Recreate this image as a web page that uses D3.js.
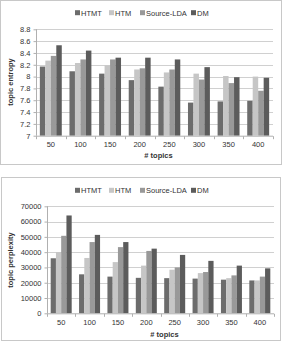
<!DOCTYPE html>
<html>
<head>
<meta charset="utf-8">
<script src="https://cdn.jsdelivr.net/npm/d3@7"></script>
<style>
body { margin: 0; background: #fff; }
text { font-family: "Liberation Sans", Arial, sans-serif; fill: #333; }
</style>
</head>
<body>
<div id="svg_container"></div>
<script>
/* -----------------------
data
------------------------- */
var topics = ['50', '100', '150', '200', '250', '300', '350', '400'];
var series = ['HTMT', 'HTM', 'Source-LDA', 'DM'];

var entropy_htmt = [8.17, 8.09, 8.05, 7.94, 7.83, 7.56, 7.58, 7.59];
var entropy_htm  = [8.27, 8.23, 8.19, 8.12, 8.07, 8.05, 8.01, 8.00];
var entropy_slda = [8.35, 8.29, 8.29, 8.14, 8.12, 7.95, 7.89, 7.76];
var entropy_dm   = [8.53, 8.44, 8.32, 8.32, 8.29, 8.16, 7.99, 7.98];
var entropy_ticks = [7, 7.2, 7.4, 7.6, 7.8, 8, 8.2, 8.4, 8.6, 8.8];

var perp_htmt = [36000, 25500, 24000, 23200, 23000, 22700, 22000, 21500];
var perp_htm  = [40000, 36200, 33500, 31200, 28500, 26300, 23000, 21500];
var perp_slda = [50700, 46600, 43300, 40800, 30000, 27000, 24800, 24000];
var perp_dm   = [64000, 51300, 46600, 42300, 38200, 34300, 31200, 29400];
var perp_ticks = [0, 10000, 20000, 30000, 40000, 50000, 60000, 70000];

/* -----------------------
main variables
------------------------- */
var width = 283, height = 344;
var colors = ['#6c6c6c', '#c6c6c6', '#999999', '#5c5c5c'];
var font_size = '7.5px';

var svg = d3.select('#svg_container')
  .append('svg')
  .attr('width', width)
  .attr('height', height);

function drawChart(cfg) {
  var g = svg.append('g');

  // frame
  g.append('rect')
    .attr('x', cfg.frame[0]).attr('y', cfg.frame[1])
    .attr('width', cfg.frame[2]).attr('height', cfg.frame[3])
    .attr('fill', 'none').attr('stroke', '#c8c8c8');

  var x0 = d3.scaleBand().domain(topics).range([cfg.left, cfg.right]);
  var x1 = d3.scaleBand().domain(series)
    .range([0, x0.bandwidth() * 0.74]);
  var off = x0.bandwidth() * 0.13;
  var y = d3.scaleLinear().domain(cfg.domain).range([cfg.bottom, cfg.top]);

  // gridlines
  g.append('g').selectAll('line')
    .data(cfg.ticks.slice(1))
    .enter().append('line')
    .attr('x1', cfg.left).attr('x2', cfg.right)
    .attr('y1', function(d) { return Math.round(y(d)) + 0.5; })
    .attr('y2', function(d) { return Math.round(y(d)) + 0.5; })
    .attr('stroke', '#d0d0d0');

  // bars
  var rows = topics.map(function(t, i) {
    return cfg.values.map(function(v, j) { return {t: t, s: series[j], v: v[i], c: colors[j]}; });
  });
  g.append('g').selectAll('g')
    .data(rows).enter().append('g')
    .attr('transform', function(d) { return 'translate(' + (x0(d[0].t) + off) + ',0)'; })
    .selectAll('rect')
    .data(function(d) { return d; })
    .enter().append('rect')
    .attr('x', function(d) { return x1(d.s); })
    .attr('width', x1.bandwidth())
    .attr('y', function(d) { return y(d.v); })
    .attr('height', function(d) { return cfg.bottom - y(d.v); })
    .attr('fill', function(d) { return d.c; });

  // y axis
  var ya = g.append('g')
    .attr('transform', 'translate(' + (cfg.left + 0.5) + ',0)')
    .call(d3.axisLeft(y).tickValues(cfg.ticks).tickSize(3).tickPadding(3)
      .tickFormat(function(d) { return d; }));
  ya.selectAll('path, line').attr('stroke', '#b0b0b0');
  ya.select('.domain').attr('d', 'M0,' + cfg.top + 'V' + cfg.bottom);
  ya.selectAll('text').attr('font-size', font_size).attr('fill', '#333');

  // x axis
  var xa = g.append('g')
    .attr('transform', 'translate(0,' + (cfg.bottom + 0.5) + ')');
  xa.append('line').attr('x1', cfg.left).attr('x2', cfg.right)
    .attr('stroke', '#b0b0b0');
  xa.selectAll('.tk')
    .data(topics.concat(['end'])).enter().append('line')
    .attr('x1', function(d, i) { return Math.round(cfg.left + i * x0.step()) + 0.5; })
    .attr('x2', function(d, i) { return Math.round(cfg.left + i * x0.step()) + 0.5; })
    .attr('y1', 0).attr('y2', 3)
    .attr('stroke', '#b0b0b0');
  xa.selectAll('text')
    .data(topics).enter().append('text')
    .attr('x', function(d) { return x0(d) + x0.bandwidth() / 2; })
    .attr('y', 11)
    .attr('text-anchor', 'middle')
    .attr('font-size', font_size)
    .text(function(d) { return d; });

  // axis titles
  g.append('text')
    .attr('x', (cfg.left + cfg.right) / 2 + 4)
    .attr('y', cfg.xTitleY)
    .attr('text-anchor', 'middle')
    .attr('font-size', '7.5px').attr('font-weight', 'bold')
    .text('# topics');
  g.append('text')
    .attr('transform', 'translate(13,' + cfg.yTitleY + ') rotate(-90)')
    .attr('text-anchor', 'middle')
    .attr('font-size', '7.5px').attr('font-weight', 'bold')
    .text(cfg.yTitle);

  // legend
  var legX = [75, 109, 140, 191];
  var leg = g.append('g').selectAll('g')
    .data(series).enter().append('g')
    .attr('transform', function(d, i) { return 'translate(' + legX[i] + ',' + cfg.legendY + ')'; });
  leg.append('rect')
    .attr('x', 0).attr('y', -2.5).attr('width', 5).attr('height', 5)
    .attr('fill', function(d, i) { return colors[i]; });
  leg.append('text')
    .attr('x', 6).attr('y', 3)
    .attr('font-size', '7.5px')
    .text(function(d) { return d; });
}

drawChart({
  frame: [0.5, 0.5, 281, 164],
  left: 36, right: 273, top: 29.3, bottom: 135.7,
  domain: [7, 8.8], ticks: entropy_ticks,
  values: [entropy_htmt, entropy_htm, entropy_slda, entropy_dm],
  legendY: 12.7, xTitleY: 158, yTitleY: 82, yTitle: 'topic entropy'
});

drawChart({
  frame: [1.5, 177.5, 279, 163],
  left: 47, right: 274, top: 206.3, bottom: 313.3,
  domain: [0, 70000], ticks: perp_ticks,
  values: [perp_htmt, perp_htm, perp_slda, perp_dm],
  legendY: 190.3, xTitleY: 337, yTitleY: 260, yTitle: 'topic perplexity'
});
</script>
</body>
</html>
